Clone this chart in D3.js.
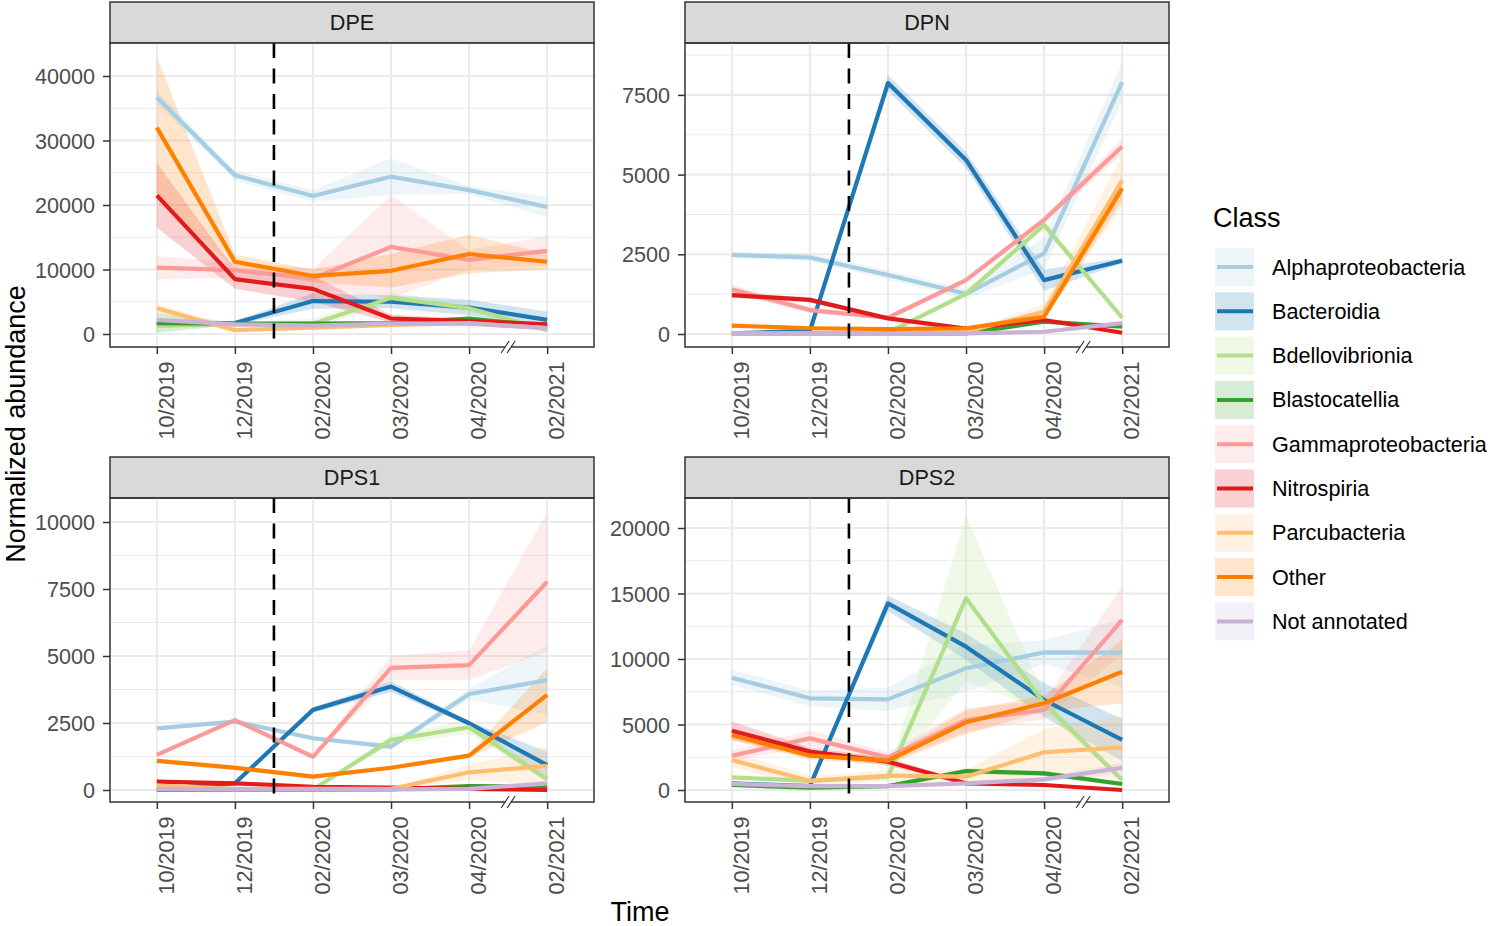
<!DOCTYPE html>
<html>
<head>
<meta charset="utf-8">
<script src="https://cdn.jsdelivr.net/npm/d3@7"></script>
<style>
  body { margin: 0; background: #fff; }
  text { font-family: "Liberation Sans", Arial, Helvetica, sans-serif; }
</style>
</head>
<body>
<svg id="chart" width="1495" height="926"></svg>
<script>
// data
const timepoints = ['10/2019', '12/2019', '02/2020', '03/2020', '04/2020', '02/2021']
const classes = ['Alphaproteobacteria', 'Bacteroidia', 'Bdellovibrionia', 'Blastocatellia',
  'Gammaproteobacteria', 'Nitrospiria', 'Parcubacteria', 'Other', 'Not annotated']
const colours = ['#a6cee3', '#1f78b4', '#b2df8a', '#33a02c', '#fb9a99', '#e31a1c', '#fdbf6f', '#ff7f00', '#cab2d6']
const sites = ['DPE', 'DPN', 'DPS1', 'DPS2']

// one row per class (same order as classes), one column per timepoint
const dpeMean = [
  [36700, 24600, 21400, 24400, 22300, 19700],
  [1500, 1700, 5100, 5000, 4100, 2200],
  [1300, 1500, 1600, 5600, 4000, 600],
  [1700, 1600, 1600, 1700, 2400, 1200],
  [10300, 9900, 8600, 13500, 11500, 12900],
  [21500, 8500, 7000, 2400, 2000, 1500],
  [4000, 600, 1000, 1400, 1700, 900],
  [32000, 11200, 9000, 9800, 12400, 11200],
  [2200, 1500, 1300, 1600, 1600, 900],
]
const dpeSe = [
  [1000, 800, 900, 2800, 600, 1600],
  [500, 300, 1200, 1000, 1200, 1300],
  [300, 300, 800, 800, 600, 300],
  [1500, 200, 200, 200, 300, 300],
  [1800, 1200, 1500, 8000, 1500, 2300],
  [5000, 1500, 2000, 600, 400, 300],
  [800, 300, 300, 300, 300, 300],
  [11000, 1100, 1000, 2600, 3000, 1200],
  [300, 200, 200, 200, 200, 200],
]
const dpnMean = [
  [2480, 2400, 1850, 1260, 2530, 7900],
  [20, 100, 7870, 5460, 1690, 2300],
  [10, 10, 40, 1260, 3420, 510],
  [10, 10, 10, 20, 390, 230],
  [1400, 750, 510, 1690, 3580, 5880],
  [1220, 1070, 490, 170, 440, 40],
  [20, 20, 20, 70, 700, 4810],
  [260, 180, 150, 180, 540, 4570],
  [5, 5, 5, 20, 70, 340],
]
const dpnSe = [
  [100, 120, 150, 150, 500, 600],
  [20, 20, 250, 250, 330, 80],
  [20, 20, 20, 80, 150, 60],
  [10, 10, 10, 10, 40, 30],
  [150, 100, 60, 80, 100, 250],
  [80, 80, 50, 30, 40, 20],
  [10, 10, 10, 20, 250, 800],
  [40, 20, 20, 20, 80, 400],
  [5, 5, 5, 10, 20, 60],
]
const dps1Mean = [
  [2300, 2550, 1930, 1620, 3580, 4100],
  [20, 250, 2990, 3860, 2490, 930],
  [10, 10, 20, 1870, 2340, 400],
  [10, 10, 10, 20, 150, 120],
  [1310, 2610, 1240, 4560, 4660, 7770],
  [310, 250, 120, 90, 40, 0],
  [160, 40, 40, 40, 660, 900],
  [1090, 830, 500, 830, 1280, 3550],
  [40, 20, 20, 20, 40, 250],
]
const dps1Se = [
  [80, 80, 80, 100, 200, 1300],
  [20, 20, 100, 200, 80, 500],
  [10, 10, 10, 200, 250, 100],
  [5, 5, 5, 5, 20, 20],
  [60, 60, 60, 450, 550, 2600],
  [40, 30, 20, 10, 10, 10],
  [20, 10, 10, 10, 300, 700],
  [80, 100, 60, 60, 80, 1000],
  [5, 5, 5, 5, 10, 40],
]
const dps2Mean = [
  [8570, 7000, 6920, 9290, 10510, 10480],
  [500, 300, 14250, 10940, 6870, 3820],
  [970, 690, 1020, 14630, 6620, 760],
  [380, 180, 300, 1450, 1270, 460],
  [2620, 3940, 2490, 5340, 6110, 12980],
  [4530, 2930, 2160, 510, 380, 0],
  [2290, 690, 1090, 1020, 2880, 3260],
  [4200, 2620, 2240, 5170, 6620, 9030],
  [460, 300, 300, 510, 810, 1700],
]
const dps2Se = [
  [600, 600, 900, 1800, 900, 2600],
  [50, 50, 600, 1000, 1300, 1600],
  [150, 100, 150, 6300, 600, 200],
  [80, 50, 60, 200, 200, 150],
  [400, 600, 400, 900, 700, 2600],
  [700, 300, 300, 100, 80, 50],
  [600, 400, 400, 500, 1800, 2400],
  [400, 300, 300, 900, 600, 2400],
  [80, 60, 60, 80, 200, 400],
]

const dpeTicks = [0, 10000, 20000, 30000, 40000]
const dpnTicks = [0, 2500, 5000, 7500]
const dps1Ticks = [0, 2500, 5000, 7500, 10000]
const dps2Ticks = [0, 5000, 10000, 15000, 20000]

// layout
const W = 484, H = 304, STRIP = 41
const panels = [
  {site: sites[0], mean: dpeMean, se: dpeSe, ticks: dpeTicks, dom: [-2016, 45116], x: 110, y: 43},
  {site: sites[1], mean: dpnMean, se: dpnSe, ticks: dpnTicks, dom: [-408, 9128], x: 685, y: 43},
  {site: sites[2], mean: dps1Mean, se: dps1Se, ticks: dps1Ticks, dom: [-448, 10896], x: 110, y: 498},
  {site: sites[3], mean: dps2Mean, se: dps2Se, ticks: dps2Ticks, dom: [-916, 22290], x: 685, y: 498},
]

const svg = d3.select('#chart')
svg.append('rect').attr('width', 1495).attr('height', 926).attr('fill', '#fff')

const drawPanel = (p) => {
  const g = svg.append('g').attr('transform', `translate(${p.x},${p.y})`)
  const x = d3.scaleLinear().domain([-0.6, timepoints.length - 0.4]).range([0, W])
  const y = d3.scaleLinear().domain(p.dom).range([H, 0])

  // strip
  g.append('rect').attr('x', 0).attr('y', -STRIP).attr('width', W).attr('height', STRIP)
    .attr('fill', '#d9d9d9').attr('stroke', '#333').attr('stroke-width', 1.5)
  g.append('text').text(p.site)
    .attr('x', W / 2).attr('y', -STRIP / 2).attr('dy', '0.36em')
    .attr('text-anchor', 'middle').attr('font-size', 21.6).attr('fill', '#1a1a1a')

  // grid
  const step = p.ticks[1] - p.ticks[0]
  const minor = d3.range(p.ticks[0] - step / 2, p.dom[1], step).filter(v => v > p.dom[0] && v < p.dom[1])
  g.selectAll('.minor').data(minor).join('line')
    .attr('x1', 0).attr('x2', W).attr('y1', d => y(d)).attr('y2', d => y(d))
    .attr('stroke', '#ebebeb').attr('stroke-width', 1.1)
  g.selectAll('.majory').data(p.ticks).join('line')
    .attr('x1', 0).attr('x2', W).attr('y1', d => y(d)).attr('y2', d => y(d))
    .attr('stroke', '#ebebeb').attr('stroke-width', 2.1)
  g.selectAll('.majorx').data(timepoints).join('line')
    .attr('x1', (d, i) => x(i)).attr('x2', (d, i) => x(i)).attr('y1', 0).attr('y2', H)
    .attr('stroke', '#ebebeb').attr('stroke-width', 2.1)

  const clipId = 'clip-' + p.site
  g.append('clipPath').attr('id', clipId).append('rect').attr('width', W).attr('height', H)
  const plot = g.append('g').attr('clip-path', `url(#${clipId})`)

  const rows = classes.map((c, k) => ({c, k, pts: p.mean[k].map((m, i) => [i, m, p.se[k][i]])}))

  const area = d3.area().x(d => x(d[0])).y0(d => y(d[1] - d[2])).y1(d => y(d[1] + d[2]))
  const line = d3.line().x(d => x(d[0])).y(d => y(d[1]))

  plot.selectAll('.ribbon').data(rows).join('path')
    .attr('d', d => area(d.pts)).attr('fill', d => colours[d.k]).attr('fill-opacity', 0.2)
  plot.selectAll('.series').data(rows).join('path')
    .attr('d', d => line(d.pts)).attr('fill', 'none').attr('stroke', d => colours[d.k])
    .attr('stroke-width', 4.2).attr('stroke-linejoin', 'round')

  // intervention line between 12/2019 and 02/2020
  plot.append('line')
    .attr('x1', x(1.5)).attr('x2', x(1.5)).attr('y1', 0).attr('y2', H)
    .attr('stroke', '#000').attr('stroke-width', 2.6).attr('stroke-dasharray', '15,10.5')

  // border
  g.append('rect').attr('width', W).attr('height', H)
    .attr('fill', 'none').attr('stroke', '#333').attr('stroke-width', 1.5)

  // axes
  const ya = g.append('g').call(d3.axisLeft(y).tickValues(p.ticks).tickSize(7).tickPadding(8).tickFormat(d3.format('d')))
  ya.select('.domain').remove()
  ya.selectAll('line').attr('stroke', '#333').attr('stroke-width', 1.5)
  ya.selectAll('text').attr('font-size', 21.6).attr('fill', '#4d4d4d').attr('dy', '0.35em')

  const xa = g.append('g').attr('transform', `translate(0,${H})`)
    .call(d3.axisBottom(x).tickValues(d3.range(timepoints.length)).tickSize(7).tickFormat(i => timepoints[i]))
  xa.select('.domain').remove()
  xa.selectAll('line').attr('stroke', '#333').attr('stroke-width', 1.5)
  xa.selectAll('text')
    .attr('font-size', 21.6).attr('fill', '#4d4d4d')
    .attr('transform', 'rotate(-90)').attr('text-anchor', 'end')
    .attr('x', -14.5).attr('y', 16.5).attr('dy', 0)

  // axis break between 04/2020 and 02/2021
  const bx = x(4.5)
  g.append('line').attr('x1', bx - 3).attr('x2', bx + 3).attr('y1', H).attr('y2', H)
    .attr('stroke', '#fff').attr('stroke-width', 3)
  ;[-3, 3].forEach(o => {
    g.append('line')
      .attr('x1', bx + o - 4).attr('y1', H + 6).attr('x2', bx + o + 4).attr('y2', H - 6)
      .attr('stroke', '#333').attr('stroke-width', 1.2)
  })
}

panels.forEach(drawPanel)

// axis titles
svg.append('text').text('Time')
  .attr('x', 640).attr('y', 921).attr('text-anchor', 'middle').attr('font-size', 27).attr('fill', '#000')
svg.append('text').text('Normalized abundance')
  .attr('transform', 'translate(25,424) rotate(-90)').attr('text-anchor', 'middle')
  .attr('font-size', 27).attr('fill', '#000')

// legend
const legend = svg.append('g').attr('transform', 'translate(1213,0)')
legend.append('text').text('Class').attr('x', 0).attr('y', 227).attr('font-size', 27).attr('fill', '#000')
const keys = legend.selectAll('.key').data(classes).join('g')
  .attr('transform', (d, i) => `translate(1,${247 + i * 44.3})`)
keys.append('rect').attr('width', 41).attr('height', 40).attr('fill', '#fff')
keys.append('rect').attr('x', 1).attr('y', 1).attr('width', 39).attr('height', 38)
  .attr('fill', (d, i) => colours[i]).attr('fill-opacity', 0.2)
keys.append('line').attr('x1', 3).attr('x2', 39).attr('y1', 20).attr('y2', 20)
  .attr('stroke', (d, i) => colours[i]).attr('stroke-width', 4)
keys.append('text').text(d => d)
  .attr('x', 58).attr('y', 20).attr('dy', '0.35em').attr('font-size', 21.6).attr('fill', '#000')
</script>
</body>
</html>
